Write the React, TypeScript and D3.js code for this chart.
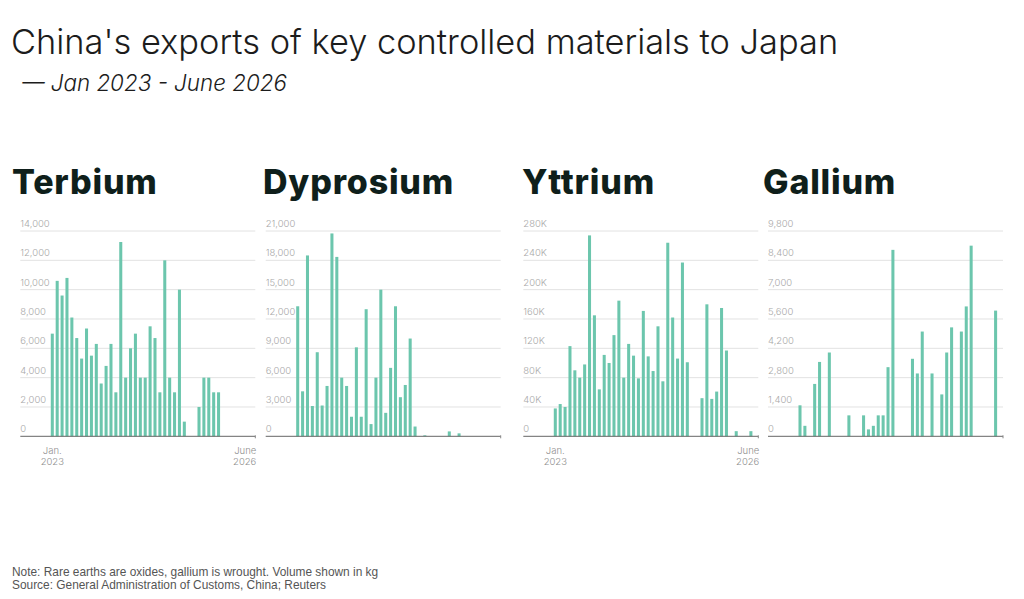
import React from "react";
import * as d3 from "d3";

// Month labels, Jan 2023 .. Jun 2026
const months: string[] = d3
  .timeMonths(new Date(2023, 0, 1), new Date(2026, 6, 1))
  .map((d) => d3.timeFormat("%Y-%m")(d));

type V = number | null;
const _ = null;

// Monthly export volumes, kg
const terbium: V[] = [
  7000, 10600, 9600, 10800, 8100, 6700, 5300, 7350, 5500, 6300, 3600, 4800,
  6300, 3000, 13250, 4000, 6000, 7000, 4000, 4000, 7500, 6700, 3000, 12000,
  4000, 3000, 10000, 1000, _, _, 2000, 4000, 4000, 3000, 3000, _,
  _, _, _, _, _, _,
];

const dysprosium: V[] = [
  13300, 4600, 18500, 3100, 8600, 3150, 5150, 20750, 18350, 6000, 5150, 2000,
  9100, 2000, 13000, 1250, 6000, 15000, 2400, 7000, 13300, 4000, 5250, 10000,
  1000, _, 100, _, _, _, _, 500, _, 300, _, _,
  _, _, _, _, _, _,
];

const yttrium: V[] = [
  38000, 44000, 40000, 123000, 90000, 80000, 98000, 274000, 165000, 64000, 111000, 100000,
  138000, 185000, 80000, 126000, 110000, 79000, 171000, 109000, 89000, 150000, 75000, 264000,
  162000, 106000, 237000, 101000, _, _, 52000, 180000, 51000, 61000, 175000, 117000,
  _, 7000, _, _, 7000, _,
];

const gallium: V[] = [
  1480, 500, _, 2500, 3550, _, 4000, _, _, _, 1000, _,
  _, 1000, 330, 500, 1000, 1000, 3300, 8900, _, _, _, 3700,
  3000, 5000, _, 3000, _, 2000, 4000, 5200, _, 5000, 6200, 9100,
  _, _, _, _, 6000, _,
];

const names = ["Terbium", "Dyprosium", "Yttrium", "Gallium"];
const seriesList = [terbium, dysprosium, yttrium, gallium];
const axisMax = [14000, 21000, 280000, 9800];
const tickCount = 7;

const fmtComma = d3.format(",");
const fmtK = (v: number) => (v === 0 ? "0" : `${v / 1000}K`);
const tickFormats = [fmtComma, fmtComma, fmtK, fmtComma];
const showDateLabels = [true, false, true, false];

// layout
const W = 1024;
const H = 599;
const panelLeft = [20.3, 265.7, 523.3, 768];
const titleX = [12, 263, 522, 763];
const yTop = 231;
const yBase = 436.3;
const firstOffset = 32;
const step = 4.89;
const axisLen = 235;

const BAR = "#6cc6ad";
const INK = "#0f1f1b";
const SANS = "Inter, 'Open Sans', sans-serif";

function Panel({ i }: { i: number }) {
  const L = panelLeft[i];
  const data = seriesList[i];
  const x0 = L + firstOffset;
  const x = d3
    .scaleBand<string>()
    .domain(months)
    .range([x0 - step / 2, x0 - step / 2 + step * months.length])
    .paddingInner(0.38)
    .paddingOuter(0.19);
  const y = d3.scaleLinear().domain([0, axisMax[i]]).range([yBase, yTop]);
  const ticks = d3.range(0, tickCount + 1).map((k) => (axisMax[i] / tickCount) * k);
  const fmt = tickFormats[i];
  const right = L + axisLen;
  return (
    <g>
      <text
        x={titleX[i]}
        y={193.5}
        fontFamily={SANS}
        fontWeight={800}
        fontSize={34}
        letterSpacing={0.8}
        fill={INK}
      >
        {names[i]}
      </text>
      {ticks.map((t) => (
        <g key={t}>
          {t > 0 && (
            <line x1={L} x2={right} y1={y(t)} y2={y(t)} stroke="#e2e2e2" strokeWidth={1} />
          )}
          <text
            x={L}
            y={y(t) - 4}
            fontFamily={SANS}
            fontWeight={300}
            fontSize={9.5}
            fill="#a9a9a9"
          >
            {fmt(t)}
          </text>
        </g>
      ))}
      {data.map((v, k) =>
        v == null ? null : (
          <rect
            key={k}
            x={x(months[k])}
            width={x.bandwidth()}
            y={y(v)}
            height={yBase - y(v)}
            fill={BAR}
          />
        )
      )}
      <line x1={L} x2={right} y1={yBase} y2={yBase} stroke="#666" strokeWidth={1} />
      <line x1={right} x2={right} y1={yBase - 1} y2={yBase + 2} stroke="#888" strokeWidth={1} />
      {showDateLabels[i] && (
        <g fontFamily={SANS} fontWeight={300} fontSize={9.5} fill="#8f8f8f">
          <text x={x(months[0])! + x.bandwidth() / 2} y={453.5} textAnchor="middle">
            Jan.
          </text>
          <text x={x(months[0])! + x.bandwidth() / 2} y={465} textAnchor="middle">
            2023
          </text>
          <text x={right + 1} y={453.5} textAnchor="end">
            June
          </text>
          <text x={right + 1} y={465} textAnchor="end">
            2026
          </text>
        </g>
      )}
    </g>
  );
}

export default function App() {
  return (
    <svg
      width={W}
      height={H}
      viewBox={`0 0 ${W} ${H}`}
      style={{ position: "absolute", left: 0, top: 0, background: "#fff" }}
    >
      <rect width={W} height={H} fill="#fff" />
      <text x={11} y={54} fontFamily={SANS} fontWeight={300} fontSize={34.4} fill="#1c1c1c">
        China's exports of key controlled materials to Japan
      </text>
      <text
        x={22}
        y={91}
        fontFamily={SANS}
        fontWeight={300}
        fontStyle="italic"
        fontSize={22.4}
        fill="#1c1c1c"
      >
        — Jan 2023 - June 2026
      </text>
      {names.map((_n, i) => (
        <Panel key={i} i={i} />
      ))}
      <g fontFamily="'Liberation Sans', Arial, sans-serif" fontSize={11.9} fill="#555">
        <text x={12} y={575.5}>
          Note: Rare earths are oxides, gallium is wrought. Volume shown in kg
        </text>
        <text x={12} y={589}>
          Source: General Administration of Customs, China; Reuters
        </text>
      </g>
    </svg>
  );
}
